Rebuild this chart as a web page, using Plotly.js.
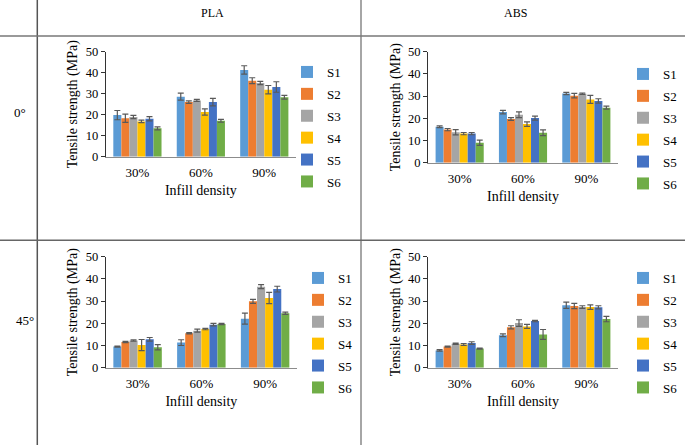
<!DOCTYPE html>
<html>
<head>
<meta charset="utf-8">
<script src="https://cdn.plot.ly/plotly-3.0.1.min.js"></script>
<style>html,body{margin:0;padding:0;background:#fff;}#chart{width:685px;height:445px;}</style>
</head>
<body>
<div id="chart"></div>
<script>
// ---- data ----
const categories = ['30%', '60%', '90%'];
const seriesNames = ['S1', 'S2', 'S3', 'S4', 'S5', 'S6'];
const seriesColors = ['#5B9BD5', '#ED7D31', '#A5A5A5', '#FFC000', '#4472C4', '#70AD47'];
const yTicks = [0, 10, 20, 30, 40, 50];
const colHeaders = ['PLA', 'ABS'];
const rowHeaders = ['0°', '45°'];

// PLA, 0° — mean per series [30%, 60%, 90%] and error
const pla0Mean = [[19.8, 28.6, 41.3], [18.3, 26.0, 36.2], [18.9, 26.8, 35.1], [16.8, 21.3, 31.9], [18.1, 26.0, 33.2], [13.5, 17.1, 28.3]];
const pla0Err  = [[2.2, 1.7, 2.0], [2.0, 0.6, 1.4], [0.8, 0.5, 0.8], [0.6, 1.5, 2.0], [1.0, 1.8, 2.5], [0.7, 0.7, 0.9]];
// ABS, 0°
const abs0Mean = [[16.2, 22.8, 31.2], [14.9, 19.7, 30.2], [13.7, 21.6, 31.1], [13.1, 17.4, 28.5], [13.1, 20.1, 27.8], [9.0, 13.5, 24.8]];
const abs0Err  = [[0.4, 0.8, 0.5], [0.5, 0.6, 1.0], [1.2, 1.3, 0.3], [0.5, 1.0, 1.8], [0.5, 0.9, 1.0], [1.2, 1.3, 0.7]];
// PLA, 45°
const pla45Mean = [[9.5, 11.3, 22.1], [11.6, 15.5, 29.9], [12.3, 16.7, 36.5], [10.2, 17.4, 31.4], [12.8, 19.4, 35.4], [9.2, 19.7, 24.5]];
const pla45Err  = [[0.2, 1.3, 2.5], [0.3, 0.3, 0.9], [0.3, 0.7, 0.9], [2.5, 0.3, 2.5], [0.8, 0.6, 1.3], [1.2, 0.3, 0.5]];
// ABS, 45°
const abs45Mean = [[7.8, 14.6, 28.1], [9.5, 18.2, 27.8], [10.8, 20.1, 27.3], [10.5, 18.6, 27.3], [11.1, 21.0, 27.2], [8.6, 15.0, 21.9]];
const abs45Err  = [[0.3, 0.6, 1.4], [0.2, 0.7, 1.2], [0.3, 1.5, 0.6], [0.4, 0.9, 1.0], [0.6, 0.3, 0.7], [0.2, 2.2, 1.2]];

// ---- layout geometry (pixels in 685x445) ----
const W = 685, H = 445;
const px = v => v / W;
const py = v => 1 - v / H;

const panels = [
  { mean: pla0Mean,  err: pla0Err,  ax: '',  x0: 105.7, x1: 296, yTop: 51.7,  yBot: 156.7, legX: 287, legY: 57 },
  { mean: abs0Mean,  err: abs0Err,  ax: '2', x0: 428,   x1: 618, yTop: 51.7,  yBot: 162.7, legX: 623, legY: 59 },
  { mean: pla45Mean, err: pla45Err, ax: '3', x0: 105.7, x1: 297, yTop: 256.7, yBot: 367.7, legX: 298, legY: 263 },
  { mean: abs45Mean, err: abs45Err, ax: '4', x0: 428,   x1: 618, yTop: 256.7, yBot: 367.7, legX: 623, legY: 263 }
];

const FONT = 'Liberation Serif';
const traces = [];
const layout = {
  width: W, height: H,
  margin: { l: 0, r: 0, t: 0, b: 0 },
  paper_bgcolor: '#fff', plot_bgcolor: '#fff',
  font: { family: FONT, color: '#000', size: 13 },
  barmode: 'group', bargap: 0.24, bargroupgap: 0,
  showlegend: true,
  shapes: [], annotations: []
};

panels.forEach((p, pi) => {
  const legName = pi === 0 ? 'legend' : 'legend' + (pi + 1);
  seriesNames.forEach((name, si) => {
    traces.push({
      type: 'bar',
      name: name,
      x: categories,
      y: p.mean[si],
      xaxis: 'x' + p.ax, yaxis: 'y' + p.ax,
      legend: legName,
      legendgroup: 'g' + pi + '_' + si,
      marker: { color: seriesColors[si], line: { width: 0 } },
      error_y: { type: 'data', array: p.err[si], visible: true, color: '#595959', thickness: 1.2, width: 3 }
    });
  });
  layout['xaxis' + p.ax] = {
    type: 'category',
    domain: [px(p.x0), px(p.x1)], anchor: 'y' + p.ax,
    showline: true, linecolor: '#8c8c8c', linewidth: 1,
    ticks: '', showgrid: false, zeroline: false,
    ticklabelstandoff: 4,
    tickfont: { family: FONT, size: 13, color: '#000' },
    title: { text: 'Infill density', font: { family: FONT, size: 14, color: '#000' }, standoff: 5 },
    fixedrange: true
  };
  layout['yaxis' + p.ax] = {
    domain: [py(p.yBot), py(p.yTop)], anchor: 'x' + p.ax,
    range: [0, 50], tickvals: yTicks,
    showline: true, linecolor: '#333', linewidth: 1,
    ticks: 'outside', ticklen: 4, tickcolor: '#333',
    showgrid: false, zeroline: false,
    tickfont: { family: FONT, size: 12.5, color: '#000' },
    title: { text: 'Tensile strength (MPa)', font: { family: FONT, size: 14, color: '#000' }, standoff: 4 },
    fixedrange: true
  };
  layout[legName] = {
    x: px(p.legX), y: py(p.legY), xanchor: 'left', yanchor: 'top',
    orientation: 'v', bgcolor: 'rgba(0,0,0,0)',
    font: { family: FONT, size: 13, color: '#000' },
    tracegroupgap: 2, itemclick: false, itemdoubleclick: false
  };
});

// table lines
layout.shapes.push(
  { type: 'line', xref: 'paper', yref: 'paper', x0: px(37.3), x1: px(37.3), y0: 0, y1: 1, line: { color: '#555', width: 1.5 } },
  { type: 'line', xref: 'paper', yref: 'paper', x0: px(361), x1: px(361), y0: 0, y1: 1, line: { color: '#888', width: 1.5 } },
  { type: 'line', xref: 'paper', yref: 'paper', x0: 0, x1: 1, y0: py(36), y1: py(36), line: { color: '#777', width: 1.5 } },
  { type: 'line', xref: 'paper', yref: 'paper', x0: 0, x1: 1, y0: py(240.3), y1: py(240.3), line: { color: '#666', width: 1.5 } }
);

// headers
layout.annotations.push(
  { text: colHeaders[0], xref: 'paper', yref: 'paper', x: px(199), y: py(13), yanchor: 'middle', showarrow: false, font: { family: FONT, size: 12 } },
  { text: colHeaders[1], xref: 'paper', yref: 'paper', x: px(529), y: py(13), yanchor: 'middle', showarrow: false, font: { family: FONT, size: 12 } },
  { text: rowHeaders[0], xref: 'paper', yref: 'paper', x: px(12), y: py(112), yanchor: 'middle', showarrow: false, font: { family: FONT, size: 13 } },
  { text: rowHeaders[1], xref: 'paper', yref: 'paper', x: px(14), y: py(320), yanchor: 'middle', showarrow: false, font: { family: FONT, size: 13 } }
);

Plotly.newPlot('chart', traces, layout, { displayModeBar: false, staticPlot: true });
</script>
</body>
</html>
